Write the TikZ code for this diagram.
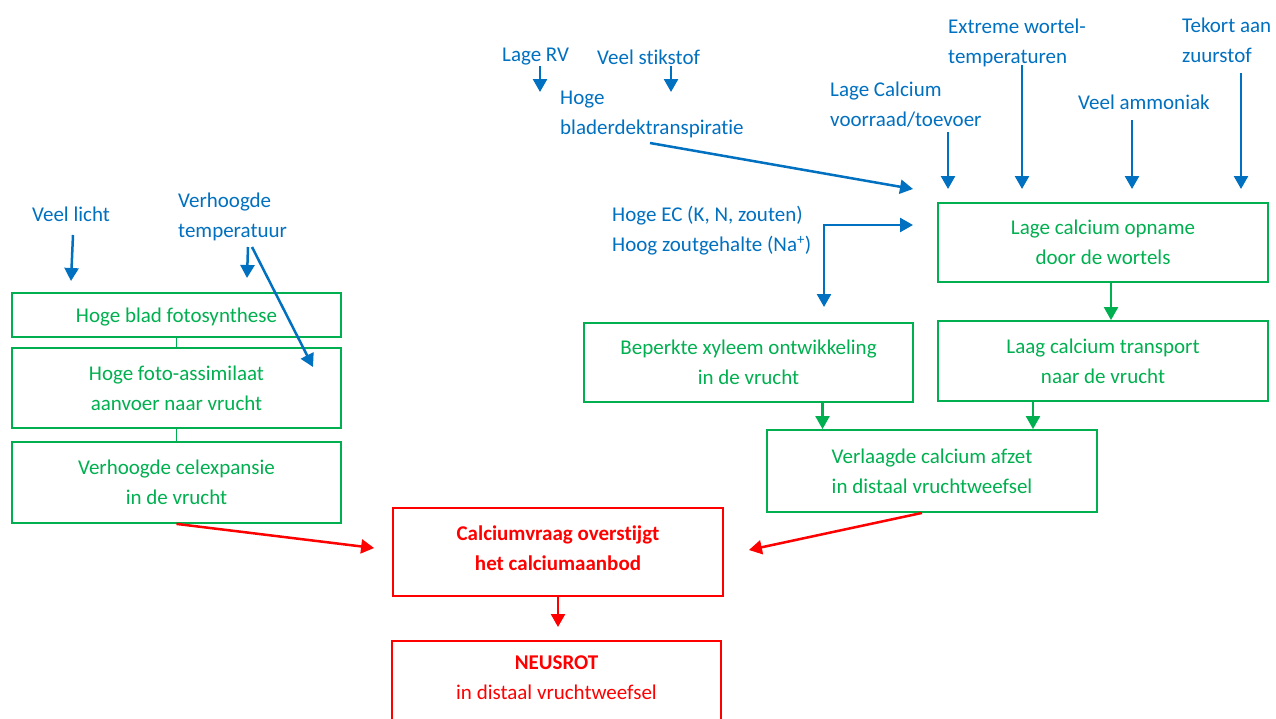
\documentclass[tikz,border=0pt]{standalone}
\usepackage{fontspec}
\setmainfont{Carlito}[Ligatures=NoCommon]
\usetikzlibrary{arrows.meta}
\definecolor{cblue}{HTML}{0070C0}
\definecolor{cgreen}{HTML}{00B050}
\definecolor{cred}{HTML}{FF0000}
\begin{document}
\begin{tikzpicture}[x=1pt,y=-1pt,
  >={Triangle[length=13pt,width=14pt]},
  txt/.style={font=\fontsize{21}{30}\selectfont},
  lbl/.style={txt, text=cblue, inner sep=0pt, align=left, anchor=west},
  gbox/.style={txt, draw=cgreen, line width=1.8pt, text=cgreen, align=center, inner sep=0pt, minimum width=#1},
  rframe/.style={draw=cred, line width=1.8pt, inner sep=0pt, minimum width=#1},
  rtext/.style={txt, text=cred, align=center, inner sep=0pt},
  barr/.style={draw=cblue, line width=2.5pt, ->},
  garr/.style={draw=cgreen, line width=2.2pt, ->},
  gline/.style={draw=cgreen, line width=1.8pt},
  rarr/.style={draw=cred, line width=2.5pt, ->}]
\clip (0,0) rectangle (1276,718);
\useasboundingbox (0,0) rectangle (1276,718);
\fill[white] (0,0) rectangle (1276,718);

% ---- left column ----
\node[gbox=329pt, minimum height=44pt, text height=19.5pt, text depth=4.5pt] (b1) at (176.5,315) {Hoge blad fotosynthese};
\node[gbox=329pt, minimum height=80pt] (b2) at (176.5,388) {Hoge foto-assimilaat\\aanvoer naar vrucht};
\node[gbox=329pt, minimum height=81pt] (b3) at (176.5,482.5) {Verhoogde celexpansie\\in de vrucht};
\draw[gline] (b1.south) -- (b2.north);
\draw[gline] (b2.south) -- (b3.north);

\node[lbl] (vl) at (32,214) {Veel licht};
\node[lbl] (vt) at (178,217) {Verhoogde\\temperatuur};
\coordinate (vl-s) at (73,235); \coordinate (vl-e) at (71,281);
\draw[barr] (vl-s) -- (vl-e);
\coordinate (vt-s) at (248,247); \coordinate (vt-e) at (247,278);
\draw[barr] (vt-s) -- (vt-e);
\coordinate (vt-s2) at (252,247); \coordinate (vt-e2) at (313,367);
\draw[barr] (vt-s2) -- (vt-e2);

% ---- top middle labels ----
\node[lbl] (rv) at (502,57) {Lage RV};
\node[lbl] (vs) at (597,57) {Veel stikstof};
\node[lbl] (hb) at (560,114) {Hoge\\bladerdektranspiratie};
\coordinate (rv-s) at (540,66); \coordinate (rv-e) at (540,92);
\draw[barr] (rv-s) -- (rv-e);
\coordinate (vs-s) at (671,66); \coordinate (vs-e) at (671,92);
\draw[barr] (vs-s) -- (vs-e);
\coordinate (hb-s) at (650,143); \coordinate (hb-e) at (913,189);
\draw[barr] (hb-s) -- (hb-e);

% ---- top right labels ----
\node[lbl] (lc) at (830,105) {Lage Calcium\\voorraad/toevoer};
\node[lbl] (ew) at (948,43) {Extreme wortel-\\temperaturen};
\node[lbl] (va) at (1078,102) {Veel ammoniak};
\node[lbl] (tz) at (1182,40) {Tekort aan\\zuurstof};
\coordinate (lc-s) at (948,132); \coordinate (lc-e) at (948,189);
\draw[barr] (lc-s) -- (lc-e);
\coordinate (ew-s) at (1022,65); \coordinate (ew-e) at (1022,189);
\draw[barr] (ew-s) -- (ew-e);
\coordinate (va-s) at (1132,120); \coordinate (va-e) at (1132,189);
\draw[barr] (va-s) -- (va-e);
\coordinate (tz-s) at (1241,73); \coordinate (tz-e) at (1241,189);
\draw[barr] (tz-s) -- (tz-e);

% ---- EC label and elbow arrow ----
\node[lbl] (ec) at (612,231) {Hoge EC (K, N, zouten)\\Hoog zoutgehalte (Na\textsuperscript{+})};
\coordinate (ec-d) at (824,307); \coordinate (ec-r) at (913,225);
\draw[draw=cblue, line width=2.5pt, <->] (ec-d) |- (ec-r);

% ---- right boxes ----
\node[gbox=330pt, minimum height=79pt] (lco) at (1103,242.5) {Lage calcium opname\\door de wortels};
\node[gbox=330pt, minimum height=80pt] (lct) at (1103,361) {Laag calcium transport\\naar de vrucht};
\node[gbox=329pt, minimum height=79pt] (bx) at (748.5,362.5) {Beperkte xyleem ontwikkeling\\in de vrucht};
\node[gbox=330pt, minimum height=82pt] (vc) at (932,471) {Verlaagde calcium afzet\\in distaal vruchtweefsel};
\draw[garr] ([xshift=8pt]lco.south) -- ([xshift=8pt]lct.north);
\draw[garr] ([xshift=74pt]bx.south) -- ([xshift=74pt]bx.south |- vc.north);
\draw[garr] ([xshift=-70pt]lct.south) -- ([xshift=-70pt]lct.south |- vc.north);

% ---- red boxes ----
\node[rframe=330pt, minimum height=88pt] (rb) at (558,552) {};
\node[rtext] (rbt) at (558,548) {\bfseries Calciumvraag overstijgt\\\bfseries het calciumaanbod};
\node[rframe=329pt, minimum height=110pt, anchor=north] (nsbox) at (556.5,640) {};
\node[rtext] (ns) at (556.5,678) {\bfseries NEUSROT\\in distaal vruchtweefsel};
\draw[rarr] (b3.south) -- ([xshift=-18pt,yshift=4pt]rb.west);
\draw[rarr] ([xshift=-10pt]vc.south) -- ([xshift=25pt,yshift=2pt]rb.east);
\draw[rarr] (rb.south) -- ([yshift=13pt]rb.south |- nsbox.north);
\end{tikzpicture}
\end{document}
